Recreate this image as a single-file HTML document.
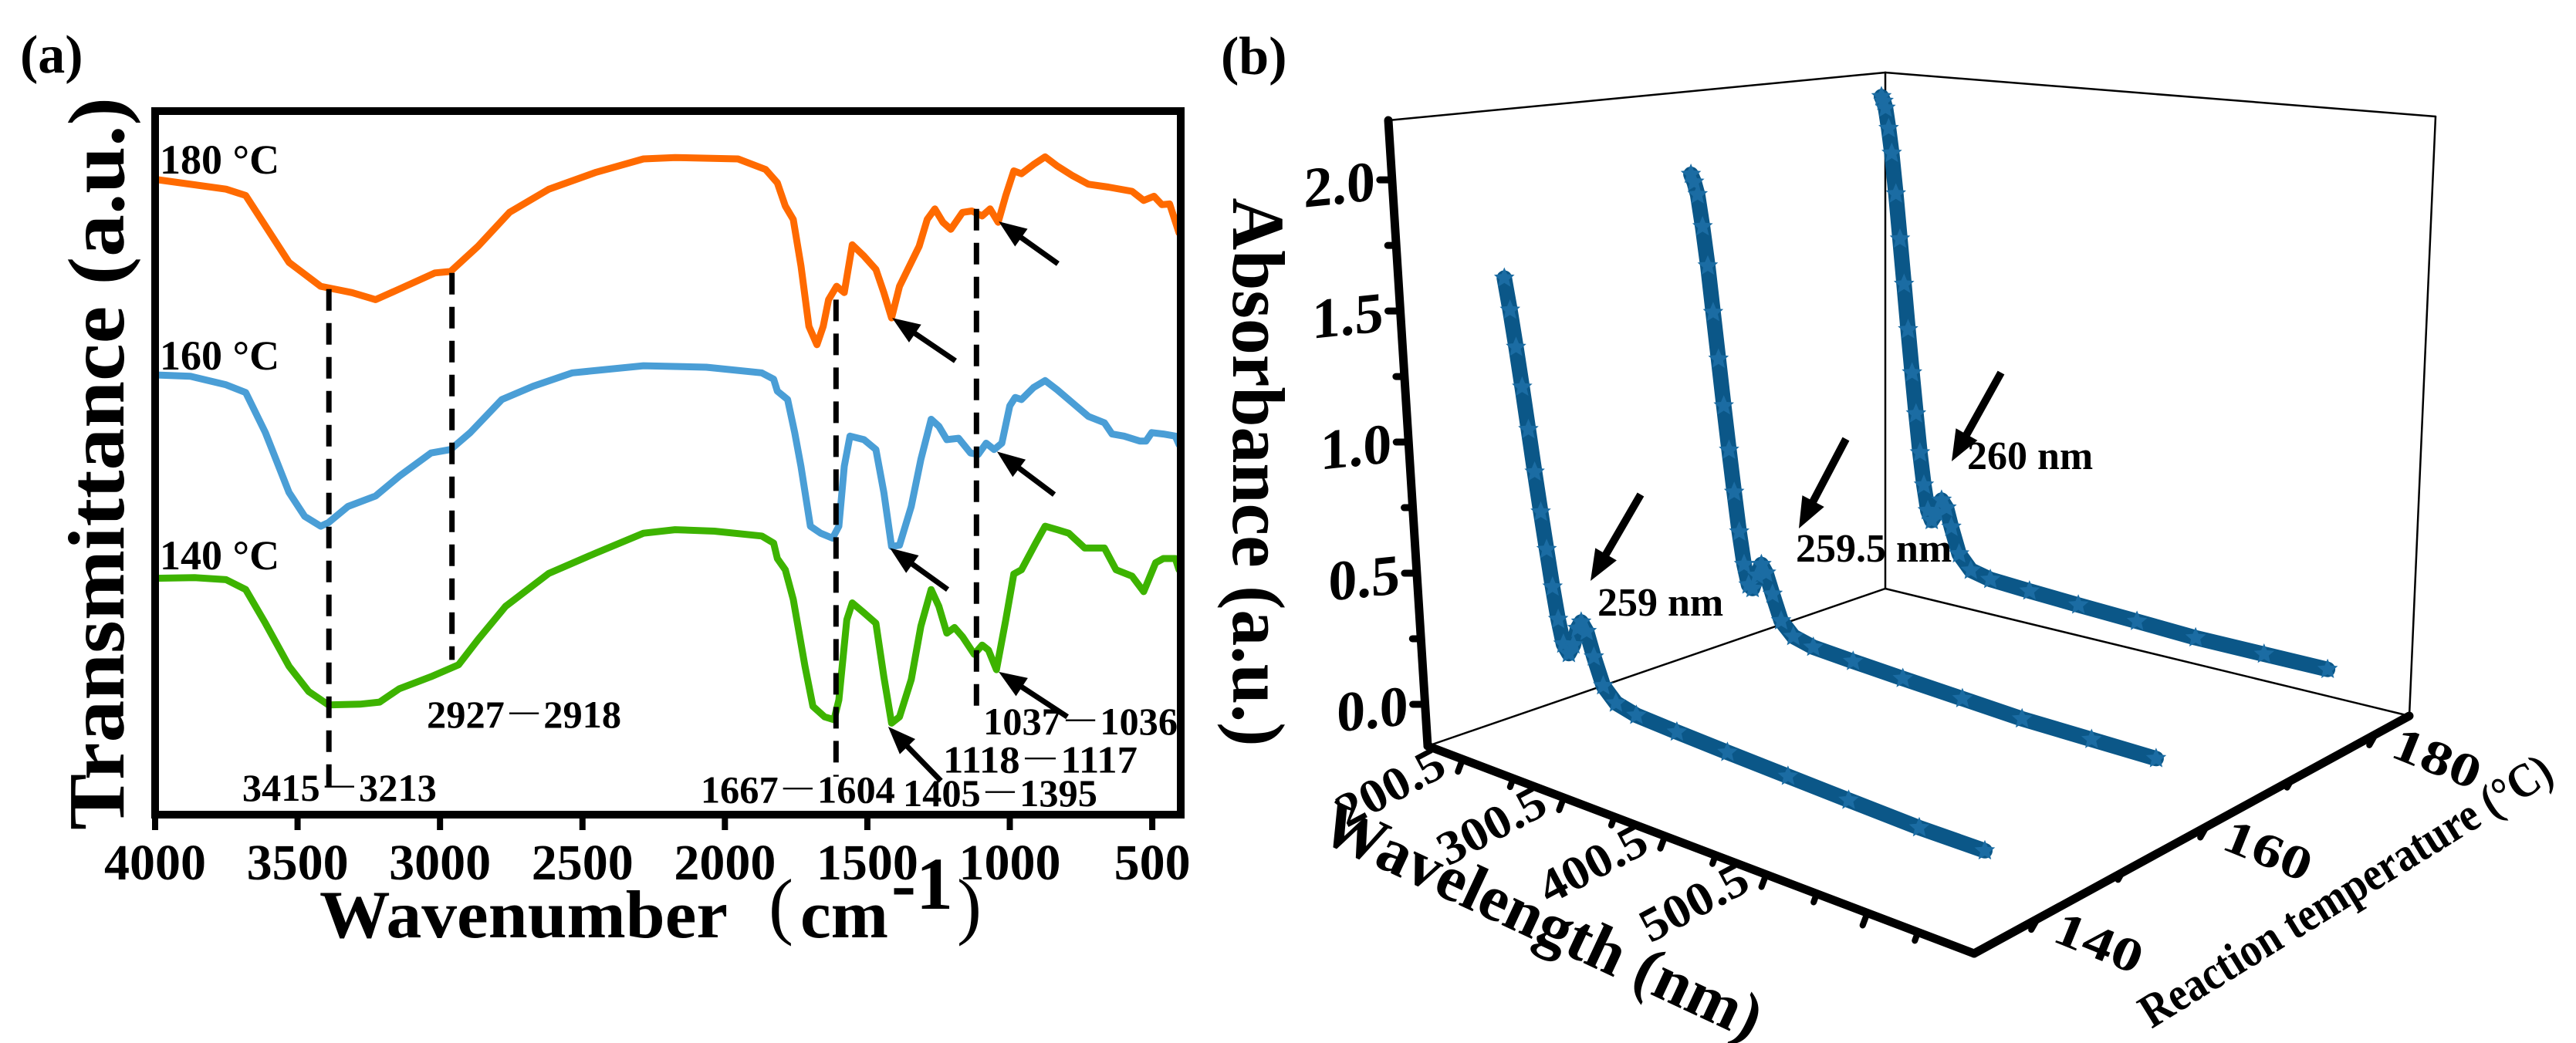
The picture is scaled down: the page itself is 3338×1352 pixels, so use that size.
<!DOCTYPE html>
<html><head><meta charset="utf-8"><style>
html,body{margin:0;padding:0;background:#fff;}
svg{display:block;font-family:"Liberation Serif","Noto Serif CJK SC","Noto Sans CJK SC",serif;font-weight:bold;}
</style></head><body>
<svg id="fig" width="3338" height="1352" viewBox="0 0 3338 1352" xmlns="http://www.w3.org/2000/svg">
<rect width="3338" height="1352" fill="#fff"/>
<g id="pa"></g>
<g id="pb"></g>
</svg>
<script>
// ---------- Panel (a) data ----------
const xTicksA=[4000,3500,3000,2500,2000,1500,1000,500];
const wn180=[4000,3751,3682,3530,3419,3309,3226,3143,3018,2963,2866,2756,2618,2452,2286,2175,1954,1857,1816,1788,1760,1733,1705,1677,1655,1636,1608,1581,1553,1512,1470,1442,1415,1387,1346,1318,1290,1263,1235,1207,1166,1133,1097,1069,1041,1014,986,959,917,876,834,779,724,654,571,530,494,466,439,406];
const tr180=[90.3,88.9,88.0,78.5,75.1,74.2,73.2,74.7,77.0,77.2,80.8,85.6,88.9,91.3,93.2,93.4,93.2,91.7,89.8,86.5,84.6,78.0,69.4,66.8,69.4,73.2,75.1,74.2,81.0,79.4,77.5,74.2,70.6,75.1,78.5,80.8,84.6,86.1,84.2,83.2,85.6,85.8,85.1,86.1,84.2,88.0,91.5,91.1,92.4,93.5,92.2,90.8,89.6,89.2,88.6,87.3,87.9,86.7,86.8,82.7];
const wn160=[4000,3876,3751,3682,3613,3530,3475,3419,3392,3323,3226,3143,3032,2963,2894,2783,2673,2535,2286,2065,1871,1829,1816,1780,1755,1733,1700,1664,1622,1600,1581,1561,1512,1470,1442,1415,1387,1346,1312,1276,1249,1221,1180,1138,1111,1083,1055,1028,1000,981,959,917,876,834,779,724,668,641,599,544,522,502,461,419,406];
const tr160=[62.5,62.3,61.1,60.0,54.3,45.8,42.4,41.0,41.5,43.8,45.3,48.1,51.4,51.9,54.3,59.0,60.9,62.8,63.8,63.6,62.8,61.9,60.2,59.0,54.3,49.5,41.0,40.0,39.3,41.0,49.5,53.8,53.3,51.9,45.8,38.1,38.3,43.8,50.5,56.2,55.2,53.3,53.5,51.4,51.2,52.8,51.9,52.8,58.1,59.3,59.0,60.7,61.7,60.4,58.5,56.6,55.7,54.1,53.8,53.1,53.1,54.3,54.1,53.8,52.6];
const wn140=[4000,3862,3751,3682,3613,3530,3461,3392,3281,3212,3143,3032,2935,2866,2770,2618,2452,2286,2175,2037,1871,1829,1816,1788,1760,1719,1691,1650,1617,1600,1572,1553,1512,1470,1442,1415,1387,1346,1312,1276,1249,1221,1194,1166,1125,1097,1075,1047,1014,986,959,909,876,834,793,737,668,627,571,530,488,461,419,406];
const tr140=[33.6,33.7,33.4,32.0,27.2,21.1,17.5,15.6,15.7,16.0,17.9,19.6,21.3,24.9,29.6,34.3,37.2,40.0,40.5,40.3,39.6,38.6,36.4,34.8,30.6,21.1,15.4,13.9,13.5,16.3,27.7,30.1,28.7,27.2,19.6,13.0,13.9,19.2,26.8,32.0,29.6,25.8,26.6,25.3,22.8,24.1,23.4,20.6,27.7,34.2,34.8,38.6,41.0,40.5,40.0,37.9,37.9,34.8,33.9,31.7,35.8,36.4,36.4,34.8];
const dashWn=[3390,2958,1610,1117];
const dashTop=[74.7,77.0,73.2,86.1];
const dashBot=[3.5,22.0,5.4,13.9];
const peakLabels=["3415－3213","2927－2918","1667－1604","1405－1395","1118－1117","1037－1036"];
const peakLabelWn=[3353,2705,1744,1034,893,752];
const peakLabelTr=[2.0,12.4,1.7,1.2,6.0,11.4];
// arrows: [wnTail, trTail, wnHead, trHead]
const arrowsA=[[831,78.3,1039,84.3],[1191,64.5,1413,70.6],[844,45.5,1045,51.6],[1218,32.0,1421,37.9],[798,13.9,1039,20.3],[1242,4.8,1427,12.5]];

// ---------- Panel (b) data ----------
const wl140=[200,204,208,212,216,220,224,228,232,236,240,245,250,255,259,264,270,278,290,310,350,400,460,520,590,655];
const ab140=[1.62,1.50,1.36,1.21,1.05,0.89,0.74,0.60,0.46,0.34,0.25,0.22,0.26,0.33,0.36,0.33,0.24,0.14,0.09,0.07,0.06,0.05,0.04,0.03,0.02,0.02];
const wl160=[200,203,206,210,214,218,222,226,230,234,238,242,246,250,255,259.5,264,270,278,290,310,350,400,460,520,590,655];
const ab160=[1.92,1.89,1.84,1.71,1.55,1.36,1.17,0.98,0.80,0.63,0.47,0.34,0.26,0.25,0.31,0.36,0.33,0.25,0.15,0.10,0.08,0.07,0.06,0.05,0.04,0.04,0.04];
const wl180=[200,202,204,207,210,214,218,222,226,230,234,238,242,246,250,255,260,265,270,278,290,310,350,400,460,520,590,655];
const ab180=[2.15,2.13,2.10,2.01,1.90,1.72,1.52,1.32,1.12,0.93,0.75,0.58,0.44,0.33,0.29,0.33,0.39,0.36,0.28,0.17,0.11,0.09,0.08,0.07,0.06,0.05,0.05,0.05];
const zTicks=[0,0.5,1.0,1.5,2.0];
const zTickLabels=["0.0","0.5","1.0","1.5","2.0"];
const wlTicks=[200.5,300.5,400.5,500.5];
const tTicks=[140,160,180];

const NS="http://www.w3.org/2000/svg";
function mk(tag,attrs,parent,txt){const e=document.createElementNS(NS,tag);for(const k in attrs)e.setAttribute(k,attrs[k]);if(txt!==undefined)e.textContent=txt;parent.appendChild(e);return e;}

// ================= Panel A =================
const pa=document.getElementById('pa');
const xA=w=>201+(4000-w)*0.36917;
const yA=v=>1056-v*9.12;
let e;
e=mk('text',{x:26,y:94,'font-size':70},pa,'(a)');


const curves=[[wn180,tr180,'#ff6a00','curve-180c'],[wn160,tr160,'#4a9ed6','curve-160c'],[wn140,tr140,'#3db300','curve-140c']];
curves.forEach(c=>{
  const pts=c[0].map((w,i)=>xA(w).toFixed(1)+','+yA(c[1][i]).toFixed(1)).join(' ');
  const pl=mk('polyline',{points:pts,fill:'none',stroke:c[2],'stroke-width':9,'stroke-linejoin':'round','stroke-linecap':'round'},pa);
  
  
});
dashWn.forEach((w,i)=>{
  const l=mk('line',{x1:xA(w),y1:yA(dashTop[i]),x2:xA(w),y2:yA(dashBot[i]),stroke:'#000','stroke-width':7,'stroke-dasharray':'28 16'},pa);
  
  
});
function arrow(parent,x1,y1,x2,y2,w,hl,hw,name){
  const dx=x2-x1,dy=y2-y1,L=Math.hypot(dx,dy),ux=dx/L,uy=dy/L;
  const bx=x2-ux*hl,by=y2-uy*hl;
  const g=mk('g',{},parent);
  
  
  mk('line',{x1:x1,y1:y1,x2:bx+ux*4,y2:by+uy*4,stroke:'#000','stroke-width':w},g);
  mk('polygon',{points:`${x2},${y2} ${bx-uy*hw},${by+ux*hw} ${bx+uy*hw},${by-ux*hw}`,fill:'#000'},g);
}
arrowsA.forEach(a=>arrow(pa,xA(a[0]),yA(a[1]),xA(a[2]),yA(a[3]),7,36,14,'peak-arrow'));
peakLabels.forEach((t,i)=>{
  const tx=mk('text',{x:xA(peakLabelWn[i]),y:yA(peakLabelTr[i]),'font-size':50,'text-anchor':'middle',textLength:252,lengthAdjust:'spacingAndGlyphs'},pa,t);
  
  
});
[['180 °C',225],['160 °C',479],['140 °C',738]].forEach(t=>{
  const tx=mk('text',{x:207,y:t[1],'font-size':54},pa,t[0]);
  
  
});
e=mk('rect',{x:201,y:144,width:1329,height:912,fill:'none',stroke:'#000','stroke-width':10},pa);


xTicksA.forEach(t=>{
  const l=mk('line',{x1:xA(t),y1:1061,x2:xA(t),y2:1076,stroke:'#000','stroke-width':8},pa);
  
  
  const tx=mk('text',{x:xA(t),y:1140,'font-size':66,'text-anchor':'middle'},pa,String(t));
  
  
});
e=mk('text',{transform:'translate(160,601) rotate(-90)','font-size':104,'text-anchor':'middle',textLength:950,lengthAdjust:'spacingAndGlyphs'},pa,'Transmittance (a.u.)');


const xt=mk('g',{},pa);


mk('text',{x:414,y:1215,'font-size':88,textLength:529,lengthAdjust:'spacingAndGlyphs'},xt,'Wavenumber');
mk('text',{x:996,y:1206,'font-size':96,'font-weight':'normal'},xt,'(');
mk('text',{x:1037,y:1215,'font-size':88,textLength:114,lengthAdjust:'spacingAndGlyphs'},xt,'cm');
mk('text',{x:1155,y:1178,'font-size':96},xt,'-1');
mk('text',{x:1240,y:1206,'font-size':96,'font-weight':'normal'},xt,')');

// ================= Panel B =================
const pb=document.getElementById('pb');
const L0=166,L1=706,T0=132.5,T1=184,A0=-0.159,A1=2.227;
const C={x:[1850,2558,3122,2443],y:[967,1236,928,763],h:[811,880,777,669],lean:[-51,-30,34,0]}; // corners: 00,10,11,01
function P(l,T,A){
  const u=(l-L0)/(L1-L0),v=(T-T0)/(T1-T0);
  const w=[(1-u)*(1-v),u*(1-v),u*v,(1-u)*v];
  const s=k=>w[0]*C[k][0]+w[1]*C[k][1]+w[2]*C[k][2]+w[3]*C[k][3];
  const f=(A-A0)/(A1-A0);
  return [s('x')+s('lean')*f, s('y')-s('h')*f];
}
function ln(p,q,w,name){const l=mk('line',{x1:p[0],y1:p[1],x2:q[0],y2:q[1],stroke:'#000','stroke-width':w,'stroke-linecap':'round'},pb);return l;}
e=mk('text',{x:1582,y:96,'font-size':70},pb,'(b)');


ln(P(L0,T0,A1),P(L0,T1,A1),2.5,'box-edge');
ln(P(L0,T1,A1),P(L1,T1,A1),2.5,'box-edge');
ln(P(L1,T1,A1),P(L1,T1,A0),2.5,'box-edge');
ln(P(L0,T1,A0),P(L0,T1,A1),2.5,'box-edge');
ln(P(L0,T0,A0),P(L0,T1,A0),2.5,'box-edge');
ln(P(L0,T1,A0),P(L1,T1,A0),2.5,'box-edge');
function star(cx,cy,r){let s='';for(let i=0;i<10;i++){const a=-Math.PI/2+i*Math.PI/5,rr=i%2?r*0.45:r;s+=(cx+rr*Math.cos(a)).toFixed(1)+','+(cy+rr*Math.sin(a)).toFixed(1)+' ';}return s;}
[[wl180,ab180,180,'uv-curve-180c'],[wl160,ab160,160,'uv-curve-160c'],[wl140,ab140,140,'uv-curve-140c']].forEach(c=>{
  const pts=c[0].map((l,i)=>P(l,c[2],c[1][i]));
  const g=mk('g',{},pb);
  
  
  mk('polyline',{points:pts.map(p=>p[0].toFixed(1)+','+p[1].toFixed(1)).join(' '),fill:'none',stroke:'#0b5788','stroke-width':20,'stroke-linejoin':'round','stroke-linecap':'round'},g);
  pts.forEach(p=>mk('polygon',{points:star(p[0],p[1],14),fill:'#1b6ca3'},g));
});
ln(P(L0,T0,A0),P(L0,T0,A1),11,'z-axis-line');
ln(P(L0,T0,A0),P(L1,T0,A0),11,'wavelength-axis-line');
ln(P(L1,T0,A0),P(L1,T1,A0),11,'temperature-axis-line');
for(let a=0;a<=2.0001;a+=0.25){const p=P(L0,T0,a);const major=Math.abs(a*2-Math.round(a*2))<1e-6;ln(p,[p[0]-(major?16:11),p[1]],9,'z-tick');}
zTicks.forEach((a,i)=>{const p=P(L0,T0,a);
  const t=mk('text',{x:0,y:0,'font-size':74,'text-anchor':'end',transform:`translate(${p[0]-22},${p[1]+26}) skewY(-6)`},pb,zTickLabels[i]);
  
  });
for(let l=200.5;l<=700;l+=50){const p=P(l,T0,A0);const major=Math.round((l-200.5)/50)%2===0;ln(p,[p[0]-(major?6:4),p[1]+(major?16:11)],8,'wavelength-tick');}
wlTicks.forEach(l=>{const p=P(l,T0,A0);
  const t=mk('text',{x:0,y:0,'font-size':62,'text-anchor':'middle',transform:`translate(${p[0]-84},${p[1]+54}) rotate(-28)`,textLength:150,lengthAdjust:'spacingAndGlyphs'},pb,String(l));
  
  });
for(let T=140;T<=180;T+=10){const p=P(L1,T,A0);const major=T%20===0;ln(p,[p[0]-(major?8:5),p[1]+(major?14:9)],8,'temperature-tick');}
tTicks.forEach(T=>{const p=P(L1,T,A0);
  const t=mk('text',{x:0,y:0,'font-size':62,'text-anchor':'middle',transform:`translate(${p[0]+72},${p[1]+50}) rotate(22)`,textLength:118,lengthAdjust:'spacingAndGlyphs'},pb,String(T));
  
  });
e=mk('text',{transform:'translate(1598,612) rotate(90)','font-size':96,'text-anchor':'middle',textLength:711,lengthAdjust:'spacingAndGlyphs'},pb,'Absorbance (a.u.)');


e=mk('text',{transform:'translate(1987,1218) rotate(25)','font-size':84,'text-anchor':'middle',textLength:620,lengthAdjust:'spacingAndGlyphs'},pb,'Wavelength (nm)');


e=mk('text',{transform:'translate(3050,1172) rotate(-31.7)','font-size':62,'text-anchor':'middle',textLength:616,lengthAdjust:'spacingAndGlyphs'},pb,'Reaction temperature (°C)');


arrow(pb,2126,641,2061,753,10,40,16,'arrow-259nm');
arrow(pb,2392,569,2331,685,10,40,16,'arrow-259-5nm');
arrow(pb,2593,483,2529,598,10,40,16,'arrow-260nm');
[['259 nm',2070,798],['259.5 nm',2327,728],['260 nm',2549,608]].forEach(t=>{
  const tx=mk('text',{x:t[1],y:t[2],'font-size':52},pb,t[0]);
  
  });
</script>
</body></html>
